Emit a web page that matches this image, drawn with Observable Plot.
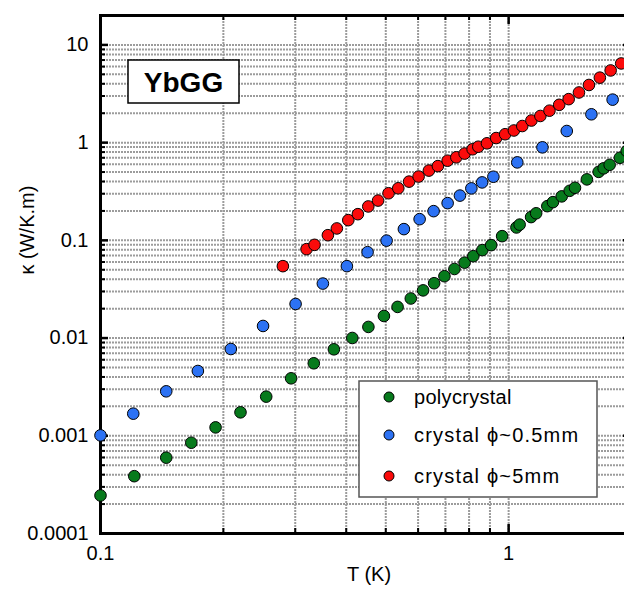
<!DOCTYPE html>
<html><head><meta charset="utf-8">
<script src="https://cdn.jsdelivr.net/npm/d3@7"></script>
<script src="https://cdn.jsdelivr.net/npm/@observablehq/plot@0.6"></script>
<style>
html,body{margin:0;padding:0;background:#fff;overflow:hidden;}
#wrap{position:relative;width:624px;height:590px;overflow:hidden;font-family:"Liberation Sans",Arial,sans-serif;}
#wrap svg{display:block;max-width:none !important;}
#over{position:absolute;left:0;top:0;}
</style></head><body><div id="wrap"></div>
<script>
// ---- data (T in K, kappa in W/K.m) ----
const polyT = [0.1,0.121,0.1449,0.1669,0.1914,0.2203,0.2547,0.2931,0.3331,0.3731,0.414,0.4533,0.4948,0.5344,0.5758,0.6172,0.6568,0.6961,0.7366,0.7801,0.8193,0.8621,0.906,0.964,1.045,1.064,1.135,1.168,1.244,1.284,1.349,1.411,1.454,1.555,1.662,1.709,1.768,1.873,1.946];
const polyK = [0.000245,0.000386,0.000597,0.000849,0.001219,0.001738,0.002516,0.003873,0.005519,0.00767,0.01002,0.013,0.01682,0.02084,0.02541,0.03076,0.0364,0.04295,0.05093,0.05913,0.06886,0.07945,0.0893,0.1104,0.1355,0.1449,0.173,0.1892,0.2239,0.246,0.2818,0.3214,0.3452,0.4207,0.5023,0.5458,0.5929,0.6998,0.8204];
const smallT = [0.1,0.1203,0.1449,0.1732,0.2086,0.2502,0.3006,0.3506,0.4015,0.4512,0.5023,0.5538,0.6052,0.6549,0.7088,0.7597,0.8103,0.861,0.9175,1.05,1.21,1.388,1.595,1.798];
const smallK = [0.00101,0.001684,0.002851,0.004603,0.007727,0.0133,0.02233,0.03612,0.05445,0.07568,0.0993,0.1303,0.1648,0.199,0.2404,0.2871,0.3404,0.3917,0.4477,0.628,0.895,1.315,1.95,2.754];
const bigT = [0.2798,0.3198,0.3345,0.3607,0.3794,0.4047,0.4272,0.453,0.4787,0.5079,0.5365,0.5702,0.6017,0.6377,0.6709,0.7088,0.7444,0.7801,0.8161,0.8426,0.8849,0.932,0.9804,1.03,1.08,1.137,1.196,1.259,1.33,1.403,1.487,1.573,1.673,1.778,1.887];
const bigK = [0.05445,0.08128,0.08995,0.1129,0.1324,0.161,0.1853,0.2223,0.2553,0.3034,0.3412,0.399,0.4498,0.5176,0.5752,0.6534,0.7079,0.7727,0.8551,0.908,0.984,1.114,1.219,1.331,1.479,1.683,1.874,2.123,2.438,2.786,3.26,3.89,4.624,5.48,6.46];

const seriesNames = ["polycrystal","crystal \u03D5~0.5mm","crystal \u03D5~5mm"];
const seriesColors = ["#077a1c","#2c72f4","#fb0b0b"];

const yMajor = [1e-4,1e-3,1e-2,1e-1,1,10];
const yTickLabels = ["0.0001","0.001","0.01","0.1","1","10"];
const yMinor = [2,3,4,5,6,7,8,9].flatMap(m => [1e-4,1e-3,1e-2,1e-1,1,10].map(d => +(m*d).toPrecision(3))).filter(v => v <= 20);
const xMajor = [0.1,1];
const xTickLabels = ["0.1","1"];
const xMinor = [0.2,0.3,0.4,0.5,0.6,0.7,0.8,0.9,2];
const xLabel = "T (K)";
const yLabel = "\u03BA (W/K.m)";
const title = "YbGG";

const rows = [];
[[polyT,polyK],[smallT,smallK],[bigT,bigK]].forEach(([T,K],s) => T.forEach((t,i) => rows.push({T:t,k:K[i],s})));

const W = 640, H = 590, mL = 100, mR = 9, mT = 15, mB = 57;
const pw = W - mL - mR, ph = H - mT - mB;
const gridStyle = {stroke:"#9c9c9c", strokeWidth:2, strokeDasharray:"2,1"};

const chart = Plot.plot({
  width: W, height: H, marginLeft: mL, marginRight: mR, marginTop: mT, marginBottom: mB,
  x: {type:"log", domain:[0.1,2]},
  y: {type:"log", domain:[1e-4,20]},
  style: {fontFamily:"'Liberation Sans', Arial, sans-serif", background:"white", color:"black", maxWidth:"none"},
  marks: [
    Plot.ruleY([...yMajor, ...yMinor], {y: d => d, ...gridStyle}),
    Plot.ruleX([...xMajor.slice(1), ...xMinor], {x: d => d, ...gridStyle}),
    // inward ticks, left & right
    Plot.tickY(yMajor, {y: d => d, insetRight: pw - 8, strokeWidth: 2.5}),
    Plot.tickY(yMinor, {y: d => d, insetRight: pw - 5, strokeWidth: 2}),
    Plot.tickY(yMajor, {y: d => d, insetLeft: pw - 8, strokeWidth: 2.5}),
    Plot.tickY(yMinor, {y: d => d, insetLeft: pw - 5, strokeWidth: 2}),
    // inward ticks, top & bottom
    Plot.tickX(xMajor, {x: d => d, insetBottom: ph - 9, strokeWidth: 2.5}),
    Plot.tickX(xMinor, {x: d => d, insetBottom: ph - 5, strokeWidth: 2}),
    Plot.tickX(xMajor, {x: d => d, insetTop: ph - 9, strokeWidth: 2.5}),
    Plot.tickX(xMinor, {x: d => d, insetTop: ph - 5, strokeWidth: 2}),
    Plot.frame({stroke:"black", strokeWidth:3}),
    Plot.dot(rows, {x:"T", y:"k", r:5.8, fill: d => seriesColors[d.s], stroke:"black", strokeWidth:1}),
    Plot.axisY(yMajor, {tickSize:0, tickPadding:12, fontSize:20, label:null, tickFormat: d => yTickLabels[yMajor.indexOf(d)]}),
    Plot.axisX(xMajor, {tickSize:0, tickPadding:12, fontSize:20, label:null, tickFormat: d => xTickLabels[xMajor.indexOf(d)]}),
    Plot.text([yLabel], {frameAnchor:"left", dx:-73, rotate:-90, fontSize:20}),
    Plot.text([xLabel], {frameAnchor:"bottom", dy:47, dx:3, fontSize:20})
  ]
});
chart.style.maxWidth = "none";
chart.style.width = W + "px";
chart.style.height = H + "px";
const wrap = document.getElementById("wrap");
wrap.appendChild(chart);

// overlay: title box and legend
const svg = d3.select(wrap).append("svg").attr("id","over").attr("width",624).attr("height",590)
  .style("font-family","'Liberation Sans', Arial, sans-serif");
svg.append("rect").attr("x",128).attr("y",60).attr("width",111).attr("height",43)
  .attr("fill","white").attr("stroke","black").attr("stroke-width",1.5);
svg.append("text").attr("x",183.5).attr("y",82).attr("dy","0.36em").attr("text-anchor","middle")
  .attr("font-size",28).attr("font-weight","bold").text(title);

svg.append("rect").attr("x",359).attr("y",381).attr("width",238).attr("height",116)
  .attr("fill","white").attr("stroke","#555").attr("stroke-width",1.5);
const ly = [397,435,476];
seriesNames.forEach((name,i) => {
  svg.append("circle").attr("cx",389).attr("cy",ly[i]).attr("r",5).attr("fill",seriesColors[i]).attr("stroke","black").attr("stroke-width",1);
  svg.append("text").attr("x",414).attr("y",ly[i]).attr("dy","0.35em").attr("font-size",20)
    .attr("letter-spacing", i === 0 ? "0.3px" : "1.2px").text(name);
});
</script>
</body></html>
